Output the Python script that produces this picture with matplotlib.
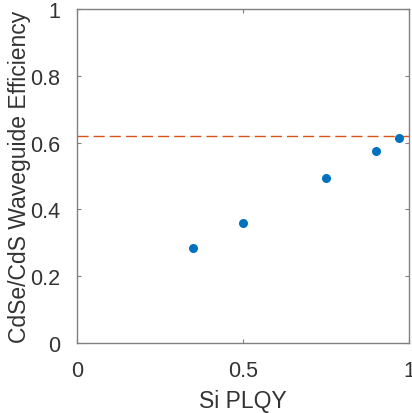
import matplotlib
matplotlib.use("Agg")
import matplotlib.pyplot as plt

# data
si_plqy = [0.35, 0.50, 0.75, 0.90, 0.97]
waveguide_eff = [0.283, 0.358, 0.493, 0.576, 0.614]
ref_level = 0.62

plt.rcParams['font.family'] = ['Liberation Sans', 'DejaVu Sans']

fig = plt.figure(figsize=(4.12, 4.14), dpi=100)
ax = fig.add_axes([77 / 412, 70 / 414, 332 / 412, 334 / 414])

ax.axhline(ref_level, color='#D95319', linestyle=(0, (8, 3.6)), linewidth=1.0)
ax.plot(si_plqy, waveguide_eff, 'o', color='#0072BD', markersize=6.5, markeredgewidth=0)

ax.set_xlim(0, 1)
ax.set_ylim(0, 1)
ax.set_xticks([0, 0.5, 1])
ax.set_xticklabels(['0', '0.5', '1'])
ax.set_yticks([0, 0.2, 0.4, 0.6, 0.8, 1])
ax.set_yticklabels(['0', '0.2', '0.4', '0.6', '0.8', '1'])

for s in ax.spines.values():
    s.set_color('#808080')
    s.set_linewidth(1.0)
ax.tick_params(direction='in', length=3, width=0.8, color='#808080',
               top=True, right=True, labelsize=15.5, labelcolor='#333333')
ax.tick_params(axis='x', pad=12)
ax.tick_params(axis='y', pad=12)

ax.set_xlabel('Si PLQY', fontsize=16.5, color='#333333', labelpad=6)
ax.set_ylabel('CdSe/CdS Waveguide Efficiency', fontsize=16.5, color='#333333',
              va='center')
ax.yaxis.set_label_coords(-0.172, 0.5)

fig.savefig('out.png', dpi=100)
